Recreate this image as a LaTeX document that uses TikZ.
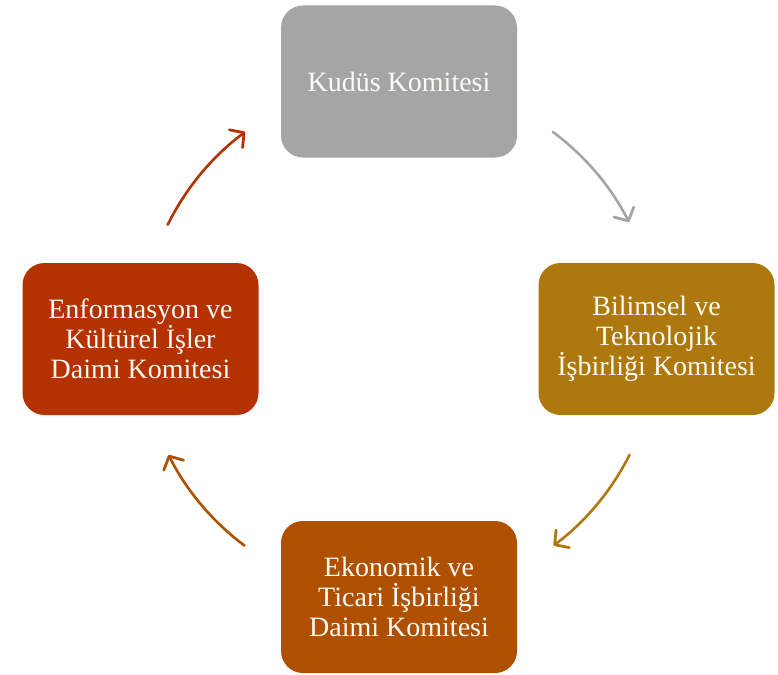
\documentclass[tikz,border=0pt]{standalone}
\usepackage{fontspec}
\setmainfont{Liberation Serif}
\usetikzlibrary{arrows.meta}
\definecolor{cgray}{RGB}{165,165,165}
\definecolor{cgold}{RGB}{173,121,14}
\definecolor{corange}{RGB}{175,80,0}
\definecolor{cred}{RGB}{180,50,0}
\definecolor{ctext}{RGB}{252,250,246}
\tikzset{
  box/.style={rounded corners=22pt, minimum width=236pt, minimum height=152pt,
    inner sep=0pt, align=center, text=ctext,
    font=\fontsize{28}{30}\selectfont},
  arr/.style={line width=2.6pt, line cap=round,
    -{Straight Barb[length=10pt,width=22pt,line width=2.8pt,round]}},
}
\begin{document}
\begin{tikzpicture}[x=1pt,y=-1pt]
\useasboundingbox (0,0) rectangle (778,674);
\coordinate (O) at (399,339);
\node[box, fill=cgray] (top) at (399,81.5) {Kudüs Komitesi};
\node[box, fill=cgold] (right) at (656.5,339) {Bilimsel ve\\Teknolojik\\İşbirliği Komitesi};
\node[box, fill=corange] (bottom) at (399,597) {Ekonomik ve\\Ticari İşbirliği\\Daimi Komitesi};
\node[box, fill=cred] (left) at (140.5,339) {Enformasyon ve\\Kültürel İşler\\Daimi Komitesi};
\draw[arr, cgray] ([shift={(53.4:258pt)}]O) arc[start angle=53.4, end angle=26.9, radius=258pt];
\draw[arr, cgold] ([shift={(-26.7:258pt)}]O) arc[start angle=-26.7, end angle=-53.2, radius=258pt];
\draw[arr, corange] ([shift={(-126.8:258pt)}]O) arc[start angle=-126.8, end angle=-153.3, radius=258pt];
\draw[arr, cred] ([shift={(153.7:258pt)}]O) arc[start angle=153.7, end angle=126.6, radius=258pt];
\end{tikzpicture}
\end{document}
